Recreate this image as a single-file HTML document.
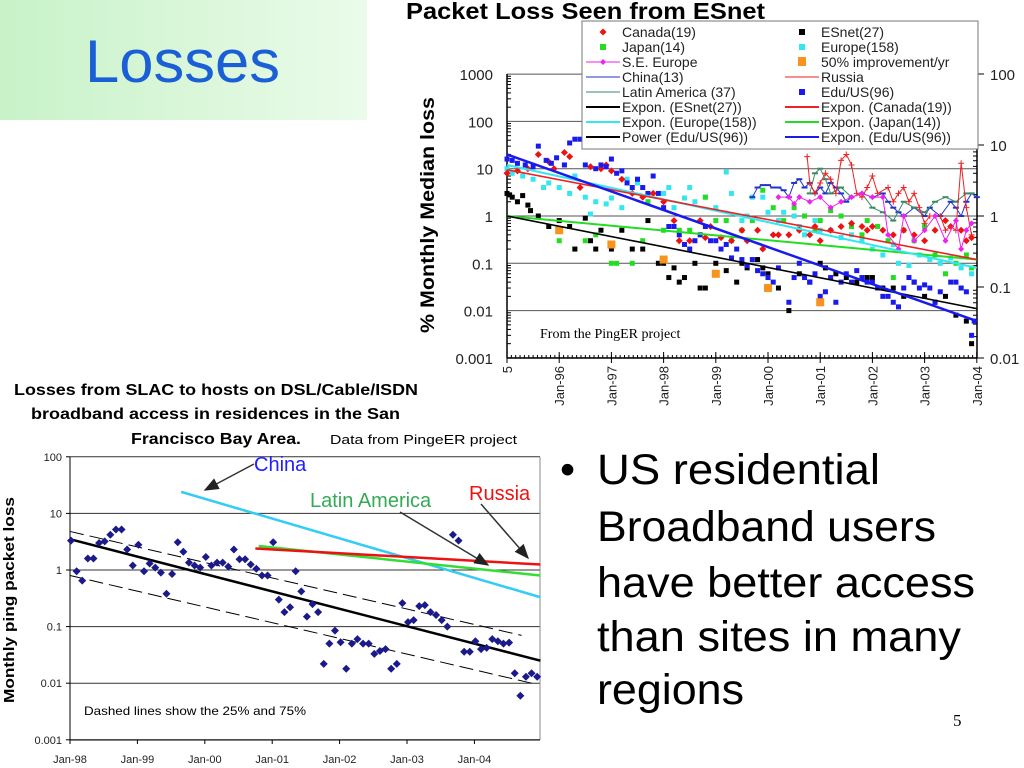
<!DOCTYPE html>
<html><head><meta charset="utf-8"><style>
html,body{margin:0;padding:0;background:#fff;width:1024px;height:768px;overflow:hidden;font-family:"Liberation Sans",sans-serif}
</style></head><body>
<svg id="s" width="1024" height="768" viewBox="0 0 1024 768" xmlns="http://www.w3.org/2000/svg">
<defs>
<linearGradient id="gg" x1="0" y1="0" x2="1" y2="0"><stop offset="0" stop-color="#c8f2c8"/><stop offset="1" stop-color="#eafbea"/></linearGradient>
<marker id="ah" markerWidth="10" markerHeight="8" refX="9" refY="4" orient="auto"><path d="M0,0 L10,4 L0,8 z" fill="#222"/></marker>
</defs>
<rect x="0" y="0" width="367" height="120" fill="url(#gg)"/>
<text x="85" y="82" font-size="60" fill="#1a5fd6" textLength="195" lengthAdjust="spacingAndGlyphs">Losses</text>
<text x="406" y="19" font-size="23" font-weight="bold" fill="#000" textLength="359" lengthAdjust="spacingAndGlyphs">Packet Loss Seen from ESnet</text>
<text transform="translate(434,215) rotate(-90)" text-anchor="middle" font-size="19" font-weight="bold" textLength="236" lengthAdjust="spacingAndGlyphs">% Monthly Median loss</text>
<g id="topg"></g>
<g id="botg"></g>
<text x="14" y="395" font-size="16" font-weight="bold" textLength="404" lengthAdjust="spacingAndGlyphs">Losses from SLAC to hosts on DSL/Cable/ISDN</text>
<text x="31" y="419" font-size="16" font-weight="bold" textLength="369" lengthAdjust="spacingAndGlyphs">broadband access in residences in the San</text>
<text x="131" y="444" font-size="16" font-weight="bold" textLength="170" lengthAdjust="spacingAndGlyphs">Francisco Bay Area.</text>
<text x="330" y="444" font-size="13" textLength="187" lengthAdjust="spacingAndGlyphs">Data from PingeER project</text>
<text transform="translate(14,600) rotate(-90)" text-anchor="middle" font-size="15" font-weight="bold" textLength="206" lengthAdjust="spacingAndGlyphs">Monthly ping packet loss</text>
<text x="84" y="715" font-size="12" textLength="222" lengthAdjust="spacingAndGlyphs">Dashed lines show the 25% and 75%</text>
<g font-size="43" fill="#000">
<text x="560" y="484">•</text>
<text x="597" y="484" textLength="283" lengthAdjust="spacingAndGlyphs">US residential</text>
<text x="597" y="541" textLength="339" lengthAdjust="spacingAndGlyphs">Broadband users</text>
<text x="597" y="597" textLength="378" lengthAdjust="spacingAndGlyphs">have better access</text>
<text x="597" y="651" textLength="364" lengthAdjust="spacingAndGlyphs">than sites in many</text>
<text x="597" y="704" textLength="147" lengthAdjust="spacingAndGlyphs">regions</text>
</g>
<text x="953" y="726" font-size="17" font-family="Liberation Serif,serif">5</text>
</svg>
<script>
// ---------- TOP CHART DATA ----------
const topXTicks=["5","Jan-96","Jan-97","Jan-98","Jan-99","Jan-00","Jan-01","Jan-02","Jan-03","Jan-04"];
const topYTicks=[1000,100,10,1,0.1,0.01,0.001];
const topRTicks=[100,10,1,0.1,0.01];
const eduT=[95.0,95.1,95.2,95.35,95.5,95.6,95.75,95.85,95.95,96.1,96.2,96.3,96.4,96.5,96.7,96.8,96.9,97.0,97.1,97.2,97.3,97.4,97.5,97.6,97.7,97.8,97.9,98.0,98.1,98.2,98.3,98.4,98.5,98.6,98.7,98.8,98.9,99.0,99.1,99.2,99.3,99.4,99.5,99.6,99.7,99.8,99.9,100.0,100.1,100.2,100.4,100.5,100.6,100.7,100.8,100.9,101.0,101.1,101.2,101.3,101.4,101.5,101.6,101.7,101.8,101.9,102.0,102.1,102.2,102.3,102.4,102.5,102.6,102.7,102.8,102.9,103.0,103.1,103.2,103.3,103.5,103.6,103.7,103.8,103.9,103.95];
const eduV=[16,15,13,12,11,30,15,13,17,12,35,42,42,12,10,12,11,16,8,9,5,4,6,4,3,7,3,1.5,0.6,0.6,0.4,0.25,0.2,0.3,0.4,0.6,0.3,0.3,0.2,0.25,0.13,0.2,0.12,0.09,0.12,0.07,0.06,0.05,0.04,0.08,0.015,0.05,0.1,0.05,0.04,0.06,0.02,0.025,0.05,0.015,0.04,0.06,0.04,0.07,0.05,0.04,0.04,0.03,0.02,0.02,0.015,0.012,0.03,0.05,0.04,0.03,0.035,0.03,0.015,0.025,0.04,0.04,0.03,0.025,0.003,0.006];
const canT=[95.0,95.2,95.4,95.6,95.8,95.9,96.1,96.2,96.4,96.6,96.8,96.9,97.0,97.2,97.4,97.6,97.8,98.0,98.2,98.3,98.5,98.7,98.8,98.9,99.1,99.3,99.5,99.6,99.8,99.9,100.1,100.2,100.4,100.6,100.8,100.9,101.0,101.2,101.4,101.6,101.8,101.9,102.0,102.2,102.4,102.6,102.8,103.0,103.2,103.4,103.5,103.7,103.8,103.9];
const canV=[8,9,10,20,14,10,22,18,4,11,10,12,9,6,3,2.5,3,2,0.8,0.3,0.3,0.8,0.35,0.6,0.35,0.3,0.5,0.3,0.5,0.2,0.4,0.4,0.4,0.5,0.4,0.6,0.3,0.5,0.6,0.7,0.6,0.5,0.6,0.5,0.4,0.5,0.4,0.3,0.5,0.8,0.6,0.5,0.3,0.35];
const eurT=[95.0,95.1,95.3,95.5,95.7,95.8,96.0,96.2,96.3,96.5,96.6,96.7,96.9,97.0,97.2,97.3,97.5,97.7,98.0,98.1,98.2,98.4,98.5,98.6,98.8,99.0,99.2,99.3,99.5,99.6,99.7,99.9,100.0,100.2,100.3,100.5,100.6,100.7,100.9,101.0,101.2,101.4,101.6,101.8,102.0,102.2,102.4,102.5,102.7,102.9,103.1,103.3,103.5,103.7,103.9];
const eurV=[10,8,7,6,4,5,4,3,7,2.5,1.1,2,1.8,2.4,1.5,6,5,2,3,4,1.5,2.4,4,2,2.5,1.5,8.5,3,0.8,1,2.5,2.5,1.2,0.8,1.2,1,0.6,0.4,0.8,0.5,0.5,0.35,0.4,0.3,0.2,0.15,0.25,0.1,0.09,0.15,0.12,0.1,0.13,0.08,0.06];
const japT=[96.0,96.3,96.5,96.7,97.0,97.1,97.4,97.6,97.7,98.0,98.3,98.5,98.8,99.0,99.2,99.3,99.5,99.7,99.9,100.1,100.3,100.5,100.7,100.9,101.0,101.2,101.4,101.6,101.8,101.9,102.1,102.3,102.4,102.6,102.8,103.0,103.2,103.4,103.6,103.7,103.8,103.9];
const japV=[0.3,0.2,0.3,0.4,0.1,0.1,0.1,0.3,2,0.5,0.5,0.5,2.5,0.8,0.8,0.3,0.5,0.8,3.5,1.5,0.8,1.5,1,0.5,0.8,1.3,1,0.6,0.4,0.8,0.6,0.3,0.05,0.5,0.3,0.6,0.15,0.06,0.1,0.03,0.15,0.08];
const esT=[95.0,95.05,95.1,95.2,95.3,95.4,95.45,95.6,95.8,96.0,96.2,96.3,96.5,96.6,96.7,96.8,97.0,97.2,97.4,97.6,97.7,97.9,98.0,98.1,98.2,98.3,98.4,98.6,98.7,98.8,99.0,99.2,99.4,99.5,99.6,99.8,99.9,100.0,100.2,100.4,100.6,100.8,101.0,101.1,101.3,101.5,101.7,101.9,102.0,102.2,102.4,102.6,102.8,103.0,103.2,103.4,103.6,103.8,103.9];
const esV=[3,2.8,2.5,2,2.7,1.7,1.3,1,0.6,0.8,0.6,0.2,0.9,0.3,0.2,0.5,0.2,0.5,0.2,0.2,0.8,0.1,0.1,0.05,0.08,0.04,0.05,0.1,0.03,0.03,0.1,0.07,0.04,0.1,0.08,0.12,0.08,0.06,0.03,0.01,0.06,0.04,0.1,0.08,0.06,0.05,0.04,0.05,0.05,0.03,0.03,0.02,0.04,0.02,0.015,0.02,0.008,0.006,0.002];
const impT=[96,97,98,99,100,101];
const impV=[0.5,0.25,0.12,0.06,0.03,0.015];
const chT=[99.7,99.8,99.9,100.0,100.1,100.2,100.3,100.4,100.5,100.6,100.7,100.8,100.9,101.0,101.1,101.2,101.3,101.4,101.5,101.6,101.8,102.0,102.2,102.3,102.4,102.5,102.6,102.8,103.0,103.1,103.3,103.5,103.6,103.7,103.8,103.9,104.0];
const chV=[2.5,4,4.5,4.5,4,4,3.5,2.5,5,6,4,5,3,4,3,5,4,3,2,2.5,3,2.5,3,2,1.5,1.2,1,1.5,1,1.5,1,2,1.5,1,2,3,2.5];
const ruT=[100.75,100.8,100.9,101.0,101.1,101.2,101.3,101.4,101.5,101.6,101.7,101.8,101.9,102.0,102.1,102.3,102.4,102.5,102.6,102.7,102.8,102.9,103.0,103.1,103.3,103.4,103.5,103.6,103.7,103.8,103.9];
const ruV=[18,5,3,5,8,6,3,15,20,12,3,2.5,4,7,3,4,2,3,4,2,3,1.5,0.7,1,1,0.5,0.6,0.5,13,1.5,0.4];
const laT=[100.8,100.9,101.0,101.1,101.2,101.4,101.6,101.8,102.0,102.2,102.4,102.6,102.8,103.0,103.2,103.4,103.6,103.8,103.9];
const laV=[3,8,10,6,3,4,2.5,3,1.5,1.2,0.8,2,1.5,1.2,2,2.5,2,3,3];
const seT=[100.2,100.4,100.5,100.6,100.8,101.0,101.2,101.4,101.6,101.8,102.0,102.2,102.3,102.5,102.6,102.8,103.0,103.2,103.4,103.6,103.7,103.8,103.9];
const seV=[2.5,2.5,1.8,2.5,2,2.5,1.5,2,2.5,3,2.5,2.5,0.4,0.2,1,0.3,0.5,1,0.3,0.8,0.2,0.5,0.7];
const trendEsnet=[95,1.0,104,0.011];
const trendCanada=[95,9.5,104,0.12];
const trendEurope=[95,12,104,0.08];
const trendJapan=[95,1.0,104,0.12];
const trendEdu=[95,20,104,0.006];

// ---------- BOTTOM CHART DATA ----------
const botXTicks=["Jan-98","Jan-99","Jan-00","Jan-01","Jan-02","Jan-03","Jan-04"];
const botYTicks=[100,10,1,0.1,0.01,0.001];
const slacV=[3.3,0.95,0.65,1.6,1.6,3.0,3.2,4.2,5.2,5.2,2.3,1.2,2.8,0.95,1.3,1.1,0.9,0.38,0.85,3.1,2.1,1.35,1.2,1.1,1.7,1.2,1.35,1.35,1.15,2.3,1.55,1.55,1.25,1.05,0.8,0.8,3.1,0.3,0.18,0.22,0.95,0.42,0.15,0.25,0.18,0.022,0.05,0.085,0.053,0.018,0.05,0.06,0.05,0.05,0.033,0.037,0.04,0.018,0.022,0.26,0.12,0.13,0.23,0.24,0.18,0.16,0.13,0.1,4.2,3.3,0.036,0.036,0.055,0.04,0.042,0.06,0.055,0.05,0.052,0.015,0.006,0.013,0.015,0.013];
const chinaFit=[1999.65,24,2004.98,0.33];
const russiaFit=[2000.75,2.4,2004.98,1.25];
const latamFit=[2000.8,2.65,2004.98,0.8];
const medianFit=[1998,3.5,2004.98,0.025];
const q75Fit=[1998,4.8,2004.7,0.07];
const q25Fit=[1998,0.8,2004.85,0.01];

const NS="http://www.w3.org/2000/svg";
function mk(p,tag,a){const e=document.createElementNS(NS,tag);for(const k in a)e.setAttribute(k,a[k]);p.appendChild(e);return e;}
const topG=document.getElementById('topg'), botG=document.getElementById('botg');

const tx=t=>507+((t>1900?t:t+1900)-1995)*52.2;
const ty=v=>216-Math.log10(v)*47.3;
const tyR=v=>216-Math.log10(v)*71;
const TL=507,TR=977,TB=358,TT=74;
topYTicks.forEach(v=>{
  const g=mk(topG,'line',{x1:TL,x2:TR,y1:ty(v),y2:ty(v),stroke:'#555','stroke-width':1});
  
  
  const t=mk(topG,'text',{x:TL-14,y:ty(v)+6,'text-anchor':'end','font-size':15,fill:'#222'});
  t.textContent=String(v);
  
  
});
for(let d=-3;d<3;d++)for(let m=2;m<10;m++){const v=m*Math.pow(10,d);mk(topG,'line',{x1:TL,x2:TL+4,y1:ty(v),y2:ty(v),stroke:'#000'});}
mk(topG,'line',{x1:TL,x2:TL,y1:TT,y2:TB,stroke:'#000','stroke-width':1.5});
mk(topG,'line',{x1:TR,x2:TR,y1:TT,y2:TB,stroke:'#000','stroke-width':1.5});
topRTicks.forEach(v=>{
  mk(topG,'line',{x1:TR,x2:TR+7,y1:tyR(v),y2:tyR(v),stroke:'#000'});
  const t=mk(topG,'text',{x:TR+13,y:tyR(v)+6,'font-size':15,fill:'#222'});
  t.textContent=String(v);
  
  
});
for(let d=-2;d<2;d++)for(let m=2;m<10;m++){const v=m*Math.pow(10,d);mk(topG,'line',{x1:TR-4,x2:TR,y1:tyR(v),y2:tyR(v),stroke:'#000'});}
mk(topG,'line',{x1:TL,x2:TR,y1:TB,y2:TB,stroke:'#000','stroke-width':1.5});
for(let i=0;i<=108;i++){const x=TL+i*(TR-TL)/108;mk(topG,'line',{x1:x,x2:x,y1:TB-3,y2:TB,stroke:'#000'});}
topXTicks.forEach((l,i)=>{
  const x=tx(95+i);
  mk(topG,'line',{x1:x,x2:x,y1:TB-6,y2:TB+5,stroke:'#000'});
  const t=mk(topG,'text',{transform:`translate(${x+5},${TB+8}) rotate(-90)`,'text-anchor':'end','font-size':13,fill:'#222'});
  t.textContent=l;
  
  
});
function line2(p,f,X,Y,col,w,name,dash){const e=mk(p,'line',{x1:X(f[0]),y1:Y(f[1]),x2:X(f[2]),y2:Y(f[3]),stroke:col,'stroke-width':w});if(dash)e.setAttribute('stroke-dasharray',dash);}
function sq(ts,vs,col,s,name){ts.forEach((t,i)=>{const e=mk(topG,'rect',{x:tx(t)-s/2,y:ty(vs[i])-s/2,width:s,height:s,fill:col});});}
function dia(ts,vs,col,name){ts.forEach((t,i)=>{const x=tx(t),y=ty(vs[i]);const e=mk(topG,'path',{d:`M${x},${y-3.5}L${x+3.5},${y}L${x},${y+3.5}L${x-3.5},${y}z`,fill:col});});}
function pl(ts,vs,col,name,mark){const e=mk(topG,'polyline',{points:ts.map((t,i)=>tx(t)+','+ty(vs[i])).join(' '),fill:'none',stroke:col,'stroke-width':1});
 ts.forEach((t,i)=>{const x=tx(t),y=ty(vs[i]);if(mark==='+'){mk(topG,'path',{d:`M${x-3},${y}H${x+3}M${x},${y-3}V${y+3}`,stroke:col});}else if(mark==='-'){mk(topG,'line',{x1:x-3,x2:x+3,y1:y,y2:y,stroke:col,'stroke-width':2});}else if(mark==='d'){mk(topG,'path',{d:`M${x},${y-3}L${x+3},${y}L${x},${y+3}L${x-3},${y}z`,fill:col});}});}
sq(eurT,eurV,'#33e6f0',5,'europe-point');
sq(japT,japV,'#22dd22',5,'japan-point');
dia(canT,canV,'#ee1111','canada-point');
sq(esT,esV,'#000',5,'esnet-point');
sq(eduT,eduV,'#1a1aee',5,'edu-us-point');
sq(impT,impV,'#f7941d',8,'improvement-point');
pl(chT,chV,'#2233cc','china-line','-');
pl(laT,laV,'#3a8a6a','latin-america-line','-');
pl(ruT,ruV,'#ee2222','russia-line','+');
pl(seT,seV,'#ee22ee','se-europe-line','d');
line2(topG,trendJapan,tx,ty,'#22dd22',2,'japan-trend');
line2(topG,trendEsnet,tx,ty,'#000',1.6,'esnet-trend');
line2(topG,trendEurope,tx,ty,'#33e6f0',2,'europe-trend');
line2(topG,trendCanada,tx,ty,'#ee2222',1.6,'canada-trend');
line2(topG,trendEdu,tx,ty,'#1a1aee',2.5,'edu-us-trend');
{const t=mk(topG,'text',{x:540,y:338,'font-size':14,'font-family':'Liberation Serif,serif'});t.textContent='From the PingER project';}
const lg=mk(topG,'g',{});


mk(lg,'rect',{x:582,y:21,width:396,height:128,fill:'#fff',stroke:'#777'});
const legL=[["Canada(19)","dia","#ee1111"],["Japan(14)","sq","#22dd22"],["S.E. Europe","ld","#ee22ee"],["China(13)","l","#2233cc"],["Latin America (37)","l","#3a8a6a"],["Expon. (ESnet(27))","L","#000"],["Expon. (Europe(158))","L","#33e6f0"],["Power (Edu/US(96))","L","#000"]];
const legR=[["ESnet(27)","sq","#000"],["Europe(158)","sq","#33e6f0"],["50% improvement/yr","big","#f7941d"],["Russia","l","#ee2222"],["Edu/US(96)","sq","#1a1aee"],["Expon. (Canada(19))","L","#ee2222"],["Expon. (Japan(14))","L","#22dd22"],["Expon. (Edu/US(96))","L","#1a1aee"]];
function legItem(it,x,y){const [lab,k,c]=it;
 if(k==='dia')mk(lg,'path',{d:`M${x},${y-3.5}L${x+3.5},${y}L${x},${y+3.5}L${x-3.5},${y}z`,fill:c});
 else if(k==='sq')mk(lg,'rect',{x:x-3,y:y-3,width:6,height:6,fill:c});
 else if(k==='big')mk(lg,'rect',{x:x-4,y:y-5,width:8,height:9,fill:c});
 else {mk(lg,'line',{x1:x-17,x2:x+17,y1:y,y2:y,stroke:c,'stroke-width':k==='L'?2:1});if(k==='ld')mk(lg,'path',{d:`M${x},${y-3}L${x+3},${y}L${x},${y+3}L${x-3},${y}z`,fill:c});}
 const t=mk(lg,'text',{x:x+19,y:y+5,'font-size':14,fill:'#222'});t.textContent=lab;
 
 }
legL.forEach((it,i)=>legItem(it,603,32+i*15));
legR.forEach((it,i)=>legItem(it,802,32+i*15));

const BL=70,BR=540,BT=457,BB=740;
const bx=t=>BL+(t-1998)*67.4;
const by=v=>570-Math.log10(v)*56.6;
botYTicks.forEach(v=>{
  const g=mk(botG,'line',{x1:BL,x2:BR,y1:by(v),y2:by(v),stroke:'#333'});
  
  
  mk(botG,'line',{x1:BL-4,x2:BL,y1:by(v),y2:by(v),stroke:'#000'});
  const t=mk(botG,'text',{x:BL-8,y:by(v)+4,'text-anchor':'end','font-size':11,fill:'#222'});t.textContent=String(v);
  
  
});
mk(botG,'line',{x1:BL,x2:BL,y1:BT,y2:BB,stroke:'#000'});
mk(botG,'line',{x1:BR,x2:BR,y1:BT,y2:BB,stroke:'#888'});
mk(botG,'line',{x1:BL,x2:BR,y1:BB,y2:BB,stroke:'#000'});
botXTicks.forEach((l,i)=>{const x=bx(1998+i);mk(botG,'line',{x1:x,x2:x,y1:BB,y2:BB+4,stroke:'#000'});
 const t=mk(botG,'text',{x:x,y:763,'text-anchor':'middle','font-size':11,fill:'#222'});t.textContent=l;
 
 });
line2(botG,q75Fit,bx,by,'#000',1,'upper-quartile-line','14,6');
line2(botG,q25Fit,bx,by,'#000',1,'lower-quartile-line','14,6');
line2(botG,chinaFit,bx,by,'#33ccf5',2.5,'china-fit');
line2(botG,latamFit,bx,by,'#33dd33',2.5,'latin-america-fit');
line2(botG,russiaFit,bx,by,'#ee1111',2.5,'russia-fit');
line2(botG,medianFit,bx,by,'#000',2.5,'median-fit');
slacV.forEach((v,i)=>{const x=bx(1998+i/12)+1,y=by(v);const e=mk(botG,'path',{d:`M${x},${y-4}L${x+4},${y}L${x},${y+4}L${x-4},${y}z`,fill:'#1a1a8a'});
 
 });
function ann(txt,x,y,col,ax1,ay1,ax2,ay2,name){const t=mk(botG,'text',{x:x,y:y,'font-size':20,fill:col});t.textContent=txt;
 mk(botG,'line',{x1:ax1,y1:ay1,x2:ax2,y2:ay2,stroke:'#333','stroke-width':1.5,'marker-end':'url(#ah)'});}
ann('China',254,471,'#2020ff',254,464,205,490,'china-label');
ann('Latin America',310,507,'#33aa55',400,512,488,565,'latin-america-label');
ann('Russia',469,500,'#ee1111',481,504,528,558,'russia-label');
</script>
</body></html>
